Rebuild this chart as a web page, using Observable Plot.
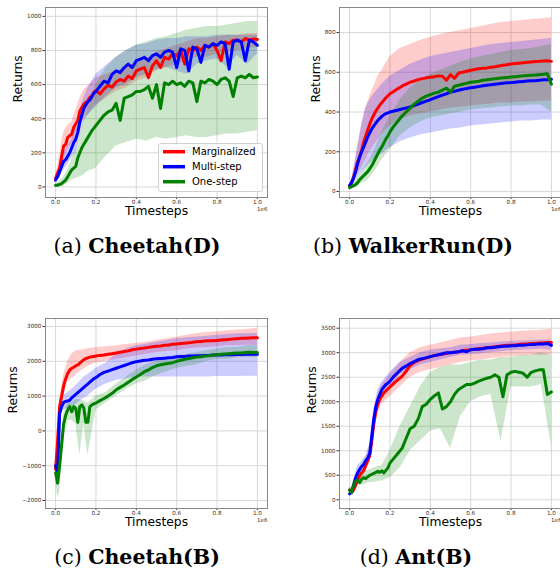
<!DOCTYPE html>
<html><head><meta charset="utf-8">
<script src="https://cdn.jsdelivr.net/npm/d3@7"></script>
<script src="https://cdn.jsdelivr.net/npm/@observablehq/plot@0.6"></script>
<style>
html,body{margin:0;padding:0;background:#fff;overflow:hidden;}
#root{position:relative;width:560px;height:571px;overflow:hidden;background:#fff;}
.cap{position:absolute;font-family:"DejaVu Serif",serif;font-size:20.5px;line-height:1;white-space:nowrap;transform:translateX(-50%);color:#000;}
.cap b{font-weight:bold;}
</style></head><body><div id="root"></div>
<script>
// Timesteps (in units of 1e6) for the mean curves
const steps = [0,.01,.02,.03,.04,.05,.06,.07,.08,.09,.10,.11,.12,.13,.14,.15,.16,.17,.18,.19,.20,
  .22,.24,.26,.28,.30,.32,.34,.36,.38,.40,.42,.44,.46,.48,.50,.52,.54,.56,.58,.60,
  .62,.64,.66,.68,.70,.72,.74,.76,.78,.80,.82,.84,.86,.88,.90,.92,.94,.96,.98,1.00];
// Timesteps (1e6) for the shaded bands
const bandSteps = [0,.01,.02,.03,.04,.06,.08,.10,.12,.14,.16,.20,.25,.30,.35,.40,.45,.50,.55,.60,.65,.70,.75,.80,.85,.90,.95,1.00];

const methods = ["Marginalized","Multi-step","One-step"];
const colors = ["#ff0000","#0000ff","#008000"];
const xTicks = [0,0.2,0.4,0.6,0.8,1.0];

// ---- (a) Cheetah(D) ----
const cheetahD_marg = [50,80,110,180,240,250,290,300,310,350,370,390,445,465,485,495,505,525,535,555,565,
  545,575,595,585,615,630,620,650,635,680,690,700,640,710,740,700,760,750,780,770,
  800,720,810,800,820,800,830,820,840,800,740,850,840,860,862,850,870,862,868,865];
const cheetahD_multi = [40,60,90,120,150,160,180,200,230,260,280,320,380,420,460,480,500,510,530,550,560,
  590,620,610,660,680,670,700,720,700,740,750,760,740,770,780,760,790,800,790,700,
  810,800,680,820,810,730,830,820,840,830,850,840,690,850,860,850,740,860,850,830];
const cheetahD_one = [10,10,15,20,30,40,60,80,100,110,120,170,200,230,250,270,290,310,330,345,360,
  390,420,440,450,490,390,520,530,540,560,560,570,590,520,600,460,610,600,620,600,
  610,590,620,610,500,620,610,630,620,600,630,640,620,530,640,650,640,660,640,645];
const cheetahD_marg_lo = [40,60,80,115,150,220,250,290,360,400,420,480,520,560,580,620,640,680,700,720,740,760,760,780,790,800,810,820];
const cheetahD_marg_hi = [70,120,180,260,320,360,380,450,520,570,590,640,660,680,700,730,750,790,810,830,850,870,870,880,890,890,900,900];
const cheetahD_multi_lo = [30,40,50,75,100,130,170,200,300,380,420,470,530,580,600,640,660,690,700,680,660,720,740,750,700,770,720,780];
const cheetahD_multi_hi = [50,80,120,160,200,240,280,360,450,520,580,660,710,760,800,830,840,860,870,870,880,880,880,890,890,890,890,890];
const cheetahD_one_lo = [0,0,0,0,5,20,40,50,60,70,90,110,180,240,260,280,270,290,280,290,300,290,290,300,310,310,320,330];
const cheetahD_one_hi = [20,25,30,45,60,100,160,220,300,380,460,600,700,760,800,830,850,870,880,900,920,930,940,940,950,960,970,970];

// ---- (b) WalkerRun(D) ----
const walkerD_marg = [30,45,70,110,150,175,210,250,280,310,340,365,385,405,420,435,448,460,472,482,492,
  505,518,530,540,550,556,563,568,572,575,578,582,580,560,588,570,596,600,605,610,
  614,618,620,622,625,628,632,635,638,642,644,646,648,650,652,654,655,657,658,655];
const walkerD_multi = [30,45,70,100,140,175,200,225,250,275,295,315,330,345,358,368,378,386,392,396,400,
  405,410,415,420,426,432,440,448,455,462,470,478,485,492,500,505,510,515,518,522,
  525,528,532,535,537,540,542,545,547,548,550,552,554,556,557,558,560,562,562,565];
const walkerD_one = [20,25,30,35,45,60,70,80,90,100,115,130,150,170,190,210,225,245,265,280,300,
  330,355,380,400,420,440,455,470,480,488,495,500,510,520,500,530,535,540,545,550,
  552,555,560,562,565,568,570,572,574,576,578,580,582,584,585,586,588,590,593,540];
const walkerD_marg_lo = [25,35,50,70,90,120,160,200,230,260,290,330,360,380,390,400,410,420,425,430,435,440,445,445,450,450,455,455];
const walkerD_marg_hi = [35,60,110,160,220,330,420,480,530,580,610,680,720,740,760,775,790,800,810,820,830,840,850,855,860,865,870,875];
const walkerD_multi_lo = [25,30,40,55,70,100,120,140,160,175,190,220,250,270,285,295,305,315,320,330,335,340,345,350,355,355,360,360];
const walkerD_multi_hi = [35,60,110,170,230,340,420,460,490,515,540,580,610,640,660,680,690,700,710,720,730,740,745,750,755,760,765,770];
const walkerD_one_lo = [15,18,20,22,25,40,50,70,95,125,160,210,280,320,350,370,380,390,400,410,415,420,425,430,430,435,435,400];
const walkerD_one_hi = [25,30,40,55,70,100,130,160,200,250,300,380,460,520,560,590,610,630,650,665,680,690,700,710,715,720,730,740];

// ---- (c) Cheetah(B) ----
const cheetahB_marg = [-1100,-300,700,1000,1300,1500,1650,1750,1800,1830,1870,1900,1950,2000,2050,2080,2100,2120,2130,2140,2150,
  2170,2180,2200,2220,2240,2260,2280,2300,2330,2350,2370,2380,2400,2420,2430,2440,2460,2470,2490,2500,
  2510,2520,2530,2550,2560,2570,2580,2590,2590,2600,2610,2620,2630,2640,2650,2660,2660,2670,2680,2680];
const cheetahB_multi = [-1000,-1200,500,700,820,850,860,880,950,1000,1050,1100,1150,1200,1250,1300,1350,1400,1450,1500,1530,
  1620,1680,1720,1760,1800,1840,1880,1920,1960,1990,2010,2030,2040,2060,2070,2080,2090,2100,2110,2130,
  2140,2140,2150,2150,2160,2160,2170,2170,2180,2180,2180,2190,2190,2190,2195,2195,2200,2200,2200,2200];
const cheetahB_one = [-1200,-1500,-1000,-400,200,450,600,700,550,700,650,250,700,750,650,250,250,700,750,780,800,
  870,930,1000,1080,1180,1250,1320,1400,1480,1550,1620,1700,1750,1820,1870,1900,1920,1940,1960,2000,
  2030,2060,2080,2100,2120,2130,2150,2160,2180,2190,2200,2210,2220,2230,2240,2240,2250,2260,2250,2250];
const cheetahB_marg_lo = [-1300,-600,500,750,1000,1400,1500,1600,1700,1780,1850,1950,2000,2050,2100,2150,2200,2250,2280,2300,2350,2380,2400,2420,2450,2450,2460,2450];
const cheetahB_marg_hi = [-1000,0,900,1300,1600,2000,2200,2300,2320,2340,2360,2400,2420,2450,2480,2520,2550,2600,2650,2700,2750,2800,2830,2850,2880,2900,2920,2950];
const cheetahB_multi_lo = [-1300,-1400,300,500,600,650,700,750,850,930,1000,1200,1350,1450,1500,1550,1550,1550,1550,1550,1550,1550,1550,1560,1560,1560,1570,1570];
const cheetahB_multi_hi = [-900,-1000,700,900,1000,1100,1200,1300,1420,1550,1620,1800,1950,2200,2350,2450,2500,2550,2600,2650,2680,2700,2720,2750,2770,2790,2800,2800];
const cheetahB_one_lo = [-1400,-1900,-1800,-1000,-200,300,300,200,-700,200,-700,600,800,1000,1200,1350,1450,1600,1700,1800,1850,1900,2000,2050,2050,2100,2100,2100];
const cheetahB_one_hi = [-1000,-1300,-800,-100,500,800,800,900,900,850,800,1000,1100,1350,1550,1750,1900,2000,2100,2150,2200,2250,2300,2350,2400,2400,2450,2450];

// ---- (d) Ant(B) ----
const antB_marg = [200,150,200,300,400,500,550,600,700,800,900,1200,1550,1800,1950,2050,2120,2180,2220,2260,2300,
  2380,2450,2520,2620,2740,2800,2840,2870,2890,2920,2940,2960,2970,2990,3000,3010,3020,3040,3050,3060,
  3070,3080,3090,3100,3110,3120,3130,3140,3150,3150,3160,3170,3180,3180,3190,3190,3200,3200,3210,3210];
const antB_multi = [120,150,300,450,550,620,680,720,800,850,950,1300,1650,1900,2050,2150,2250,2300,2350,2380,2420,
  2520,2600,2680,2730,2780,2820,2860,2880,2900,2920,2940,2960,2980,3000,3000,3010,3020,3040,3020,3060,
  3070,3070,3080,3100,3100,3110,3120,3130,3130,3140,3140,3150,3150,3160,3170,3170,3180,3180,3190,3150];
const antB_one = [200,150,300,380,400,350,420,450,430,470,500,520,540,560,580,560,590,550,600,650,750,
  850,950,1050,1250,1450,1500,1650,1900,1950,2050,2120,2180,1850,1900,2000,2150,2250,2300,2350,2350,
  2380,2420,2450,2480,2500,2550,2500,2100,2550,2600,2620,2600,2580,2500,2600,2630,2650,2650,2150,2200];
const antB_marg_lo = [150,100,150,220,300,420,550,750,1350,1750,1950,2100,2300,2500,2600,2650,2700,2750,2800,2830,2850,2880,2900,2920,2940,2950,2950,2960];
const antB_marg_hi = [250,250,300,420,550,700,850,1050,1750,2150,2350,2550,2800,3000,3100,3150,3200,3250,3300,3320,3350,3380,3400,3420,3440,3450,3460,3480];
const antB_multi_lo = [80,100,220,330,420,550,700,800,1500,1900,2100,2250,2550,2650,2750,2800,2850,2900,2950,2960,2980,3000,3020,3040,3050,3060,3070,3050];
const antB_multi_hi = [180,200,400,550,700,780,900,1150,1850,2250,2400,2600,2800,2900,3000,3050,3080,3100,3150,3170,3190,3200,3220,3230,3240,3250,3260,3260];
const antB_one_lo = [150,100,200,250,300,300,320,350,350,380,380,450,650,1000,1200,1400,1450,1050,1700,2000,2100,2150,1200,2300,2300,2300,2350,1100];
const antB_one_hi = [250,220,400,450,500,550,580,620,650,680,700,1000,1500,1900,2300,2600,2700,2750,2750,2800,2850,2850,2900,2900,2950,2950,3000,2950];

// ---- layout of the four panels ----
const panels = [
  {tag:"(a)", name:"Cheetah(D)", means:[cheetahD_marg,cheetahD_multi,cheetahD_one],
   lows:[cheetahD_marg_lo,cheetahD_multi_lo,cheetahD_one_lo], highs:[cheetahD_marg_hi,cheetahD_multi_hi,cheetahD_one_hi],
   yDomain:[-62,1052], yTicks:[0,200,400,600,800,1000],
   left:0, top:0, width:280, height:230, ml:45, mr:13, mt:7, mb:33, labelOffset:27, legend:true, capX:137, capY:236},
  {tag:"(b)", name:"WalkerRun(D)", means:[walkerD_marg,walkerD_multi,walkerD_one],
   lows:[walkerD_marg_lo,walkerD_multi_lo,walkerD_one_lo], highs:[walkerD_marg_hi,walkerD_multi_hi,walkerD_one_hi],
   yDomain:[-30,926], yTicks:[0,200,400,600,800],
   left:280, top:0, width:290, height:230, ml:59, mr:9, mt:7, mb:33, labelOffset:23, capX:413, capY:236},
  {tag:"(c)", name:"Cheetah(B)", means:[cheetahB_marg,cheetahB_multi,cheetahB_one],
   lows:[cheetahB_marg_lo,cheetahB_multi_lo,cheetahB_one_lo], highs:[cheetahB_marg_hi,cheetahB_multi_hi,cheetahB_one_hi],
   yDomain:[-2230,3230], yTicks:[-2000,-1000,0,1000,2000,3000],
   left:0, top:280, width:280, height:255, ml:45, mr:13, mt:38, mb:27, labelOffset:32, capX:137, capY:547},
  {tag:"(d)", name:"Ant(B)", means:[antB_marg,antB_multi,antB_one],
   lows:[antB_marg_lo,antB_multi_lo,antB_one_lo], highs:[antB_marg_hi,antB_multi_hi,antB_one_hi],
   yDomain:[-178,3698], yTicks:[0,500,1000,1500,2000,2500,3000,3500],
   left:280, top:280, width:290, height:255, ml:59, mr:9, mt:38, mb:27, labelOffset:27, capX:416, capY:547}
];

const root = document.getElementById("root");
const yFmt = d => d < 0 ? "\u2212" + Math.abs(d) : String(d);

for (const p of panels) {
  const lineRows = [], bandRows = [];
  p.means.forEach((arr, k) => arr.forEach((v, i) => lineRows.push({t: steps[i], v, m: methods[k]})));
  p.lows.forEach((arr, k) => arr.forEach((v, i) => bandRows.push({t: bandSteps[i], lo: v, hi: p.highs[k][i], m: methods[k]})));
  const svg = Plot.plot({
    width: p.width, height: p.height,
    marginLeft: p.ml, marginRight: p.mr, marginTop: p.mt, marginBottom: p.mb,
    style: {fontFamily: "DejaVu Sans", color: "#333", background: "transparent",
            position: "absolute", left: p.left + "px", top: p.top + "px", overflow: "visible"},
    x: {domain: [-0.05, 1.05]},
    y: {domain: p.yDomain},
    color: {domain: methods, range: colors},
    marks: [
      Plot.gridX(xTicks, {stroke: "#d4d4d4", strokeOpacity: 1, strokeWidth: 0.9}),
      Plot.gridY(p.yTicks, {stroke: "#d4d4d4", strokeOpacity: 1, strokeWidth: 0.9}),
      Plot.areaY(bandRows, {x: "t", y1: "lo", y2: "hi", z: "m", fill: "m", fillOpacity: 0.2}),
      Plot.line(lineRows, {x: "t", y: "v", z: "m", stroke: "m", strokeWidth: 3}),
      Plot.axisX(xTicks, {tickFormat: d3.format(".1f"), tickSize: 2, tickPadding: 0.5, fontSize: 5.7, label: null}),
      Plot.axisY(p.yTicks, {tickFormat: yFmt, tickSize: 2.5, tickPadding: 1.5, fontSize: 5.7, label: null}),
      Plot.frame({stroke: "#888", strokeWidth: 1}),
      Plot.text(["Returns"], {frameAnchor: "left", dx: -p.labelOffset, rotate: -90, fontSize: 12.3, fill: "#000"}),
      Plot.text(["Timesteps"], {frameAnchor: "bottom", dy: 17.3, fontSize: 12.3, fill: "#000"}),
      Plot.text(["1e6"], {frameAnchor: "bottom-right", dy: 13, textAnchor: "end", fontSize: 5.5, fill: "#333"})
    ]
  });
  root.appendChild(svg);

  if (p.legend) {
    const lg = d3.select(root).append("svg")
      .attr("width", 105).attr("height", 49)
      .style("position", "absolute").style("left", (p.left + 158) + "px").style("top", (p.top + 143) + "px");
    lg.append("rect").attr("x", 0.5).attr("y", 0.5).attr("width", 104).attr("height", 48).attr("rx", 2.5)
      .attr("fill", "#fff").attr("fill-opacity", 0.8).attr("stroke", "#d0d0d0");
    methods.forEach((m, i) => {
      const y = 8.7 + i * 15;
      lg.append("line").attr("x1", 5).attr("x2", 27).attr("y1", y).attr("y2", y)
        .attr("stroke", colors[i]).attr("stroke-width", 3.5);
      lg.append("text").attr("x", 34).attr("y", y).attr("dy", "0.35em")
        .attr("font-family", "DejaVu Sans").attr("font-size", 10).attr("fill", "#000").text(m);
    });
  }

  const cap = document.createElement("div");
  cap.className = "cap";
  cap.style.left = p.capX + "px";
  cap.style.top = p.capY + "px";
  cap.innerHTML = p.tag + " <b>" + p.name + "</b>";
  root.appendChild(cap);
}
</script>
</body></html>
